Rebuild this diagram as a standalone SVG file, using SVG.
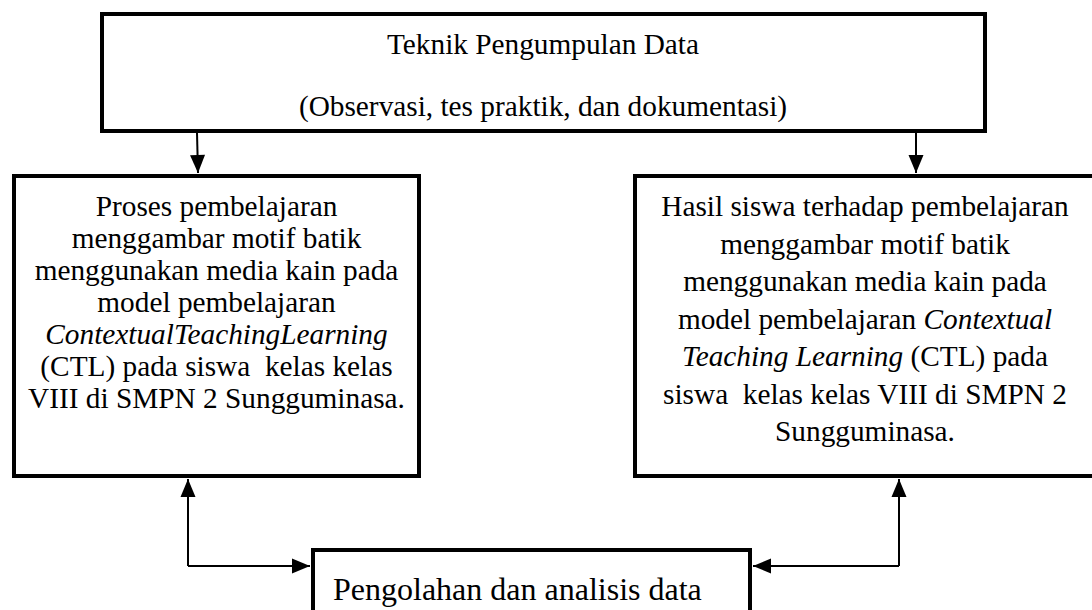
<svg xmlns="http://www.w3.org/2000/svg" width="1092" height="610" viewBox="0 0 1092 610">
<style>
.box{fill:#fff;stroke:#000;stroke-width:4}
.t{font-family:"Liberation Serif","Times New Roman",serif;font-size:29.3px;fill:#000;text-anchor:middle}
.b{font-size:32px}
.conn{fill:none;stroke:#000;stroke-width:2}
</style>
<defs>
<marker id="ah" markerUnits="userSpaceOnUse" markerWidth="19" markerHeight="16" refX="18" refY="7.5" orient="auto" overflow="visible">
<path d="M0,0 L18,7.5 L0,15 z" fill="#000"/>
</marker>
</defs>
<rect width="1092" height="610" fill="#fff"/>
<g id="node-teknik">
<rect class="box" x="102" y="14" width="883" height="117"/>
<text class="t" x="543" y="54">Teknik Pengumpulan Data</text>
<text class="t" x="543" y="116">(Observasi, tes praktik, dan dokumentasi)</text>
</g>
<g id="node-proses">
<rect class="box" x="14" y="176" width="405" height="300"/>
<text class="t" x="216.5" y="216">Proses pembelajaran</text>
<text class="t" x="216.5" y="248">menggambar motif batik</text>
<text class="t" x="216.5" y="280">menggunakan media kain pada</text>
<text class="t" x="216.5" y="312">model pembelajaran</text>
<text class="t" x="216.5" y="344" font-style="italic">ContextualTeachingLearning</text>
<text class="t" x="216.5" y="376" xml:space="preserve">(CTL) pada siswa  kelas kelas</text>
<text class="t" x="216.5" y="408">VIII di SMPN 2 Sungguminasa.</text>
</g>
<g id="node-hasil">
<rect class="box" x="635" y="176" width="470" height="300"/>
<text class="t" x="865" y="216">Hasil siswa terhadap pembelajaran</text>
<text class="t" x="865" y="253.5">menggambar motif batik</text>
<text class="t" x="865" y="291">menggunakan media kain pada</text>
<text class="t" x="865" y="328.5">model pembelajaran <tspan font-style="italic">Contextual</tspan></text>
<text class="t" x="865" y="366"><tspan font-style="italic">Teaching Learning</tspan> (CTL) pada</text>
<text class="t" x="865" y="403.5" xml:space="preserve">siswa  kelas kelas VIII di SMPN 2</text>
<text class="t" x="865" y="441">Sungguminasa.</text>
</g>
<g id="node-pengolahan">
<rect class="box" x="313" y="550" width="437" height="100"/>
<text class="t b" x="333" y="600" style="text-anchor:start">Pengolahan dan analisis data</text>
</g>
<g id="connectors">
<line class="conn" x1="197" y1="133" x2="198" y2="173" marker-end="url(#ah)"/>
<line class="conn" x1="916" y1="133" x2="916" y2="173" marker-end="url(#ah)"/>
<polyline class="conn" points="188,566 188,479" marker-end="url(#ah)"/>
<polyline class="conn" points="188,566 310,566" marker-end="url(#ah)"/>
<polyline class="conn" points="899,566 899,479" marker-end="url(#ah)"/>
<polyline class="conn" points="899,566 753,566" marker-end="url(#ah)"/>
</g>
</svg>
